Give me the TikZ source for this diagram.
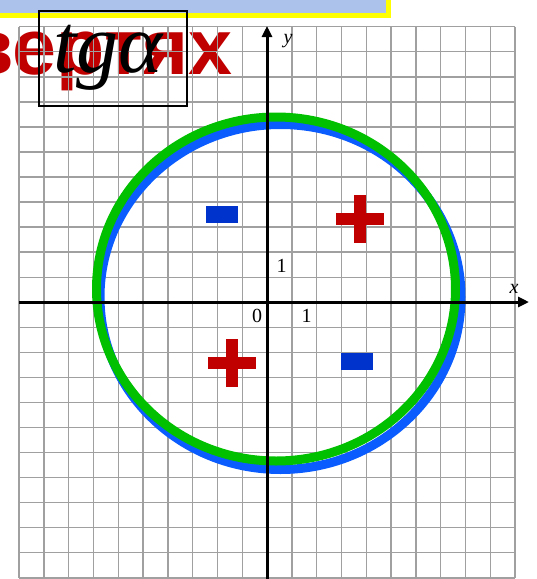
\documentclass[tikz,border=0pt]{standalone}
\usepackage{fontspec}
\setmainfont{Liberation Serif}
\newfontfamily\tgsans{Liberation Sans}
\usetikzlibrary{arrows.meta}
\definecolor{tgred}    {HTML}{C00000}
\definecolor{tgblue}   {HTML}{0033CC}
\definecolor{tgring}   {HTML}{0A5CFF}
\definecolor{tggreen}  {HTML}{00C000}
\definecolor{tggray}   {HTML}{A0A0A0}
\definecolor{tgbar}    {HTML}{ADC2EA}
\definecolor{tgyellow} {HTML}{FFFF00}
\tikzset{
  tggrid/.style={draw=tggray, line width=1.4pt},
  tgaxis/.style={draw=black, line width=3pt, -{Triangle[length=11pt,width=10pt]}},
  tgcircle/.style={line width=9pt},
  tgtitle/.style={font=\tgsans\bfseries\fontsize{79}{84}\selectfont, text=tgred, inner sep=0pt},
  tglabel/.style={font=\fontsize{20}{22}\selectfont, inner sep=0pt},
  tgminus/.style={fill=tgblue, minimum width=32pt, minimum height=17pt, inner sep=0pt},
  tgbox/.style={draw=black, line width=1.6pt, minimum width=148pt, minimum height=95pt,
                inner sep=0pt},
  tgtext/.style={font=\itshape\fontsize{84}{88}\selectfont, inner sep=0pt},
}
\begin{document}
\begin{tikzpicture}[x=1pt,y=-1pt]
  \useasboundingbox (0,0) rectangle (537,579);
  % header bar
  \fill[tgyellow] (0,0) rectangle (390.7,18.3);
  \fill[tgbar] (0,0) rectangle (385.7,12.7);
  \node[tgtitle, anchor=base east] (title) at (233,74) {вертях};
  % grid
  \foreach \i in {0,...,20}
    \draw[tggrid] (19+24.8*\i,26.7) -- (19+24.8*\i,577.7);
  \foreach \j in {0,...,22}
    \draw[tggrid] (19,26.7+25.05*\j) -- (515,26.7+25.05*\j);
  % circle
  \draw[tgcircle, tgring] (280.5,297) ellipse [x radius=180.5, y radius=172.5];
  \draw[tgcircle, tggreen] (276,289) ellipse [x radius=179.5, y radius=172];
  % axes
  \coordinate (xl) at (19,302);
  \coordinate (xr) at (529,302);
  \coordinate (yb) at (267,579);
  \coordinate (yt) at (267,26);
  \draw[tgaxis] (xl) -- (xr);
  \draw[tgaxis] (yb) -- (yt);
  \node[tglabel] (ylab) at (288,41) {\textit{y}};
  \node[tglabel] (xlab) at (514,289) {\textit{x}};
  \node[tglabel] (one y) at (281.5,266) {1};
  \node[tglabel] (zero) at (257,316) {0};
  \node[tglabel] (one x) at (306.5,316) {1};
  % signs
  \node[tgminus] (minus a) at (222,214.5) {};
  \node[tgminus] (minus b) at (357,361.5) {};
  \foreach \cx/\cy in {360/218.5, 232/363}{
    \fill[tgred] (\cx-24,\cy-6) rectangle (\cx+24,\cy+6);
    \fill[tgred] (\cx-6,\cy-24) rectangle (\cx+6,\cy+24);
  }
  % tg box
  \node[tgbox] (tg) at (112.8,58.4) {};
  \node[tgtext, anchor=base] (tg text) at (108,72) {tgα};
\end{tikzpicture}
\end{document}
